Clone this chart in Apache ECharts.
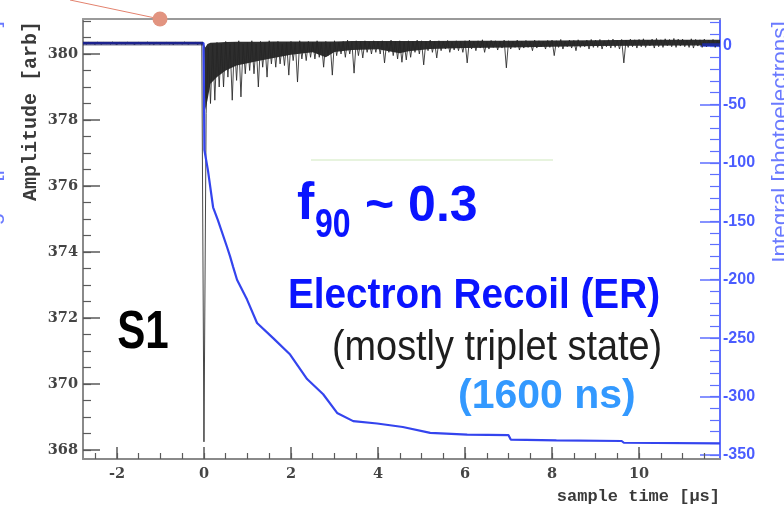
<!DOCTYPE html>
<html><head><meta charset="utf-8">
<script src="https://cdn.jsdelivr.net/npm/echarts@6/dist/echarts.min.js"></script>
<style>html,body{margin:0;padding:0;background:#fff}#c{width:784px;height:513px}</style>
</head><body><div id="c"></div>
<script>
// ---- tick labels ----
const xTickLabels = [-2, 0, 2, 4, 6, 8, 10];
const leftTickLabels = [368, 370, 372, 374, 376, 378, 380];
const rightTickLabels = [-350, -300, -250, -200, -150, -100, -50, 0];

// ---- waveform (Amplitude [arb]) sampled every 0.05 us from -2.75 us ----
const sampleStart = -2.75;
const sampleStep = 0.05;
const amplitude = [
380.33,380.30,380.35,380.31,380.34,380.29,380.36,380.32,380.30,380.35,
380.31,380.34,380.30,380.36,380.32,380.29,380.35,380.31,380.33,380.30,
380.36,380.31,380.34,380.29,380.33,380.35,380.30,380.34,380.31,380.36,
380.30,380.33,380.29,380.35,380.32,380.30,380.34,380.31,380.36,380.30,
380.33,380.29,380.35,380.31,380.34,380.30,380.36,380.32,380.30,380.34,
380.31,380.35,380.29,380.33,380.31,
368.25,378.2,380.2,378.5,380.3,378.6,380.35,379.0,380.3,379.0,380.38,379.3,380.3,378.6,380.35,379.2,380.4,378.7,380.3,379.4,
380.35,379.5,380.4,379.4,380.3,379.0,380.38,379.6,380.33,379.3,380.4,379.7,380.35,379.6,380.38,379.7,380.3,379.65,380.36,379.36,
380.38,379.8,380.35,379.15,380.4,379.85,380.33,379.8,380.38,379.9,380.36,379.85,380.4,379.9,380.35,379.6,380.38,379.95,380.34,379.36,
380.4,379.95,380.36,380.0,380.38,379.9,380.42,380.0,380.35,379.42,380.4,379.95,380.37,379.88,380.4,380.05,380.36,380.0,380.4,380.05,
380.38,380.0,380.4,379.73,380.36,380.05,380.42,379.95,380.38,379.85,380.4,379.75,380.35,379.82,380.4,379.9,380.38,380.05,380.42,380.0,
380.4,379.67,380.38,380.1,380.42,380.05,380.37,379.88,380.4,380.1,380.38,380.15,380.41,380.05,380.36,380.12,380.4,380.1,380.38,380.05,
380.4,379.73,380.42,380.15,380.38,380.1,380.4,380.18,380.43,380.05,380.37,380.15,380.41,380.2,380.4,380.12,380.38,380.18,380.42,379.58,
380.4,380.15,380.38,380.2,380.42,380.12,380.39,380.18,380.41,380.2,380.37,380.1,380.42,380.18,380.4,380.22,380.38,380.15,380.41,380.2,
380.42,379.95,380.4,380.2,380.44,380.15,380.38,380.22,380.42,380.18,380.41,380.1,380.43,380.2,380.39,380.22,380.42,380.15,380.44,380.2,
380.42,380.2,380.44,380.15,380.4,380.22,380.43,380.18,380.45,380.2,380.41,380.15,380.44,379.73,380.42,380.2,380.45,380.22,380.43,380.18,
380.44,380.22,380.46,380.2,380.42,380.25,380.45,380.18,380.47,380.22,380.43,380.2,380.46,380.25,380.44,380.22,380.47,380.2,380.45,380.24,
380.45,380.22,380.42,380.2,380.46,380.18,380.44,380.24,380.43,380.2,380.45,380.22,380.42,380.25,380.44,380.2,380.4,380.22
];

// ---- dense noise band of the waveform (upper / lower envelope) ----
const preBandTime  = [-2.78, -0.02];
const preBandUpper = [380.38, 380.38];
const preBandLower = [380.26, 380.26];
const bandTime  = [0.0, 0.03, 0.08, 0.15, 0.3, 0.5, 0.75, 1.0, 1.3, 1.6, 2.0, 2.5, 2.8, 3.0, 3.4, 4.0, 4.5, 4.7, 5.2, 6.0, 7.0, 8.0, 9.0, 10.0, 11.0, 11.86];
const bandUpper = [380.3, 380.2, 380.3, 380.34, 380.35, 380.36, 380.37, 380.37, 380.37, 380.38, 380.38, 380.38, 380.38, 380.38, 380.39, 380.39, 380.39, 380.39, 380.39, 380.4, 380.4, 380.41, 380.42, 380.43, 380.43, 380.43];
const bandLower = [380.3, 378.3, 378.6, 379.1, 379.3, 379.5, 379.65, 379.72, 379.8, 379.88, 379.98, 380.05, 379.9, 380.06, 380.12, 380.14, 380.02, 380.08, 380.15, 380.18, 380.2, 380.22, 380.24, 380.25, 380.26, 380.26];

// ---- integral (photoelectrons) ----
const integralTime  = [-2.78, -0.01, 0.0, 0.01, 0.09, 0.21, 0.32, 0.53, 0.60, 0.67, 0.76, 0.99, 1.22, 1.59, 1.98, 2.37, 2.74, 3.06, 3.43, 3.98, 4.57, 5.20, 6.05, 7.00, 7.05, 8.10, 9.60, 9.65, 11.86];
const integralValue = [2.5, 2.5, -40, -89, -106, -138, -149, -172, -180, -189, -200, -217, -237, -250, -264, -285, -298, -314, -321, -323, -326, -331, -332.5, -333, -336.8, -337.5, -338, -339.5, -340];

// short dark baseline stub at right end (right axis)
const stubTime = [11.45, 11.86];
const stubValue = [1, 1];

// ---- axis ranges ----
const xMin = -2.78, xMax = 11.86;
const yLeftMin = 367.73, yLeftMax = 381.06;
const yRightMin = -353.4, yRightMax = 23.1;

const xMinor = []; for (let v = -2.5; v <= 11.5; v += 0.5) xMinor.push(+v.toFixed(2));
const leftMinor = []; for (let v = 368; v <= 381; v += 0.5) leftMinor.push(+v.toFixed(2));
const rightMinor = []; for (let v = -350; v <= 20; v += 10) rightMinor.push(v);

const wave = amplitude.map((a, i) => [+(sampleStart + i * sampleStep).toFixed(3), a]);
const integ = integralTime.map((t, i) => [t, integralValue[i]]);
const stub = stubTime.map((t, i) => [t, stubValue[i]]);

function bandRenderer(times, upper, lower, fill, opacity) {
  return function (params, api) {
    const pts = [];
    for (let i = 0; i < times.length; i++) pts.push(api.coord([times[i], upper[i]]));
    for (let i = times.length - 1; i >= 0; i--) pts.push(api.coord([times[i], lower[i]]));
    return {type: 'polygon', shape: {points: pts}, style: {fill: fill, opacity: opacity}};
  };
}

const grey = '#8a8a8a';
const tickGrey = '#5a5a5a';
const axBlue = '#5f6fff';
const labelFontL = {fontFamily: 'DejaVu Serif', fontWeight: 'bold', fontSize: 14.5, color: '#444'};
const noAxisLine = {show: false, onZero: false};

const chart = echarts.init(document.getElementById('c'), null, {renderer: 'canvas'});
chart.setOption({
  animation: false,
  backgroundColor: '#ffffff',
  grid: {left: 83, right: 64, top: 19, bottom: 54, containLabel: false},
  xAxis: [
    {type: 'value', min: xMin, max: xMax, position: 'bottom',
      axisLine: {onZero: false, lineStyle: {color: grey, width: 2}},
      axisTick: {inside: true, length: 12, customValues: xTickLabels, lineStyle: {color: tickGrey, width: 1.5}},
      axisLabel: Object.assign({customValues: xTickLabels, margin: 8}, labelFontL),
      splitLine: {show: false}},
    {type: 'value', min: xMin, max: xMax, position: 'bottom',
      axisLine: noAxisLine,
      axisTick: {inside: true, length: 6, customValues: xMinor, lineStyle: {color: tickGrey, width: 1.2}},
      axisLabel: {show: false}, splitLine: {show: false}},
    {type: 'value', min: xMin, max: xMax, position: 'top',
      axisLine: {onZero: false, lineStyle: {color: '#9a9a9a', width: 2}},
      axisTick: {show: false}, axisLabel: {show: false}, splitLine: {show: false}}
  ],
  yAxis: [
    {type: 'value', min: yLeftMin, max: yLeftMax, position: 'left',
      axisLine: {show: true, onZero: false, lineStyle: {color: grey, width: 2}},
      axisTick: {show: true, inside: true, length: 17, customValues: leftTickLabels, lineStyle: {color: tickGrey, width: 1.5}},
      axisLabel: Object.assign({customValues: leftTickLabels, margin: 5}, labelFontL),
      splitLine: {show: false}},
    {type: 'value', min: yLeftMin, max: yLeftMax, position: 'left',
      axisLine: noAxisLine,
      axisTick: {show: true, inside: true, length: 8, customValues: leftMinor, lineStyle: {color: tickGrey, width: 1.2}},
      axisLabel: {show: false}, splitLine: {show: false}},
    {type: 'value', min: yRightMin, max: yRightMax, position: 'right',
      axisLine: {show: true, onZero: false, lineStyle: {color: axBlue, width: 2}},
      axisTick: {show: true, inside: true, length: 20, customValues: rightTickLabels, lineStyle: {color: axBlue, width: 1.5}},
      axisLabel: {customValues: rightTickLabels, margin: 3, fontFamily: 'Liberation Sans', fontWeight: 'bold', fontSize: 16, color: '#4a5cff'},
      splitLine: {show: false}},
    {type: 'value', min: yRightMin, max: yRightMax, position: 'right',
      axisLine: noAxisLine,
      axisTick: {show: true, inside: true, length: 10, customValues: rightMinor, lineStyle: {color: axBlue, width: 1.2}},
      axisLabel: {show: false}, splitLine: {show: false}}
  ],
  series: [
    {type: 'custom', name: 'band', xAxisIndex: 0, yAxisIndex: 0, data: [[bandTime[0], bandUpper[0]]], z: 1,
      renderItem: bandRenderer(bandTime, bandUpper, bandLower, '#1c1c1c', 0.92)},
    {type: 'line', name: 'Amplitude', xAxisIndex: 0, yAxisIndex: 0, data: wave, showSymbol: false,
      lineStyle: {color: '#262626', width: 0.85}, z: 2},
    {type: 'line', name: 'Integral', xAxisIndex: 0, yAxisIndex: 2, data: integ, showSymbol: false,
      lineStyle: {color: '#3444ee', width: 2.2}, z: 3},
    {type: 'line', name: 'stub', xAxisIndex: 0, yAxisIndex: 2, data: stub, showSymbol: false,
      lineStyle: {color: '#1c2a9a', width: 3}, z: 3},
    {type: 'custom', name: 'preBand', xAxisIndex: 0, yAxisIndex: 0, data: [[preBandTime[0], preBandUpper[0]]], z: 4,
      renderItem: bandRenderer(preBandTime, preBandUpper, preBandLower, '#0a0a40', 0.55)}
  ],
  graphic: [
    {type: 'line', shape: {x1: 70, y1: 0, x2: 160, y2: 19}, style: {stroke: '#e3826e', lineWidth: 1}, z: 10},
    {type: 'circle', shape: {cx: 160, cy: 19, r: 7.5}, style: {fill: '#e29480'}, z: 11},
    {type: 'line', shape: {x1: 311, y1: 160, x2: 553, y2: 160}, style: {stroke: '#cfe8bd', lineWidth: 1}, z: 10},
    {type: 'text', x: 31, y: 111, rotation: Math.PI / 2,
      style: {text: 'Amplitude [arb]', font: 'bold 20px "Liberation Mono"', fill: '#3a3a3a', textAlign: 'center', textVerticalAlign: 'middle', align: 'center', verticalAlign: 'middle'}},
    {type: 'text', x: 720, y: 497,
      style: {text: 'sample time [\u03bcs]', font: 'bold 17px "Liberation Mono"', fill: '#3a3a3a', textAlign: 'right', textVerticalAlign: 'middle', align: 'right', verticalAlign: 'middle'}},
    {type: 'text', x: 781, y: 142, rotation: Math.PI / 2,
      style: {text: 'Integral [photoelectrons]', font: '22.5px "Liberation Sans"', fill: '#6a7aff', textAlign: 'center', textVerticalAlign: 'middle', align: 'center', verticalAlign: 'middle'}},
    {type: 'text', x: -7, y: 142, rotation: Math.PI / 2,
      style: {text: 'Integral [photoelectrons]', font: '22.5px "Liberation Sans"', fill: '#6a7aff', textAlign: 'center', textVerticalAlign: 'middle', align: 'center', verticalAlign: 'middle'}},
    {type: 'text', x: 143, y: 333, scaleX: 0.78,
      style: {text: 'S1', font: 'bold 54px "Liberation Sans"', fill: '#000', textAlign: 'center', textVerticalAlign: 'middle', align: 'center', verticalAlign: 'middle'}},
    {type: 'text', x: 297, y: 205,
      style: {text: 'f', font: 'bold 52px "Liberation Sans"', fill: '#0a14ff', textAlign: 'left', textVerticalAlign: 'middle', align: 'left', verticalAlign: 'middle'}},
    {type: 'text', x: 315, y: 226, scaleX: 0.8,
      style: {text: '90', font: 'bold 40px "Liberation Sans"', fill: '#0a14ff', textAlign: 'left', textVerticalAlign: 'middle', align: 'left', verticalAlign: 'middle'}},
    {type: 'text', x: 365, y: 207,
      style: {text: '~ 0.3', font: 'bold 50px "Liberation Sans"', fill: '#0a14ff', textAlign: 'left', textVerticalAlign: 'middle', align: 'left', verticalAlign: 'middle'}},
    {type: 'text', x: 288, y: 296, scaleX: 0.9,
      style: {text: 'Electron Recoil (ER)', font: 'bold 43px "Liberation Sans"', fill: '#0a14ff', textAlign: 'left', textVerticalAlign: 'middle', align: 'left', verticalAlign: 'middle'}},
    {type: 'text', x: 332, y: 348, scaleX: 0.88,
      style: {text: '(mostly triplet state)', font: '43px "Liberation Sans"', fill: '#1e1e1e', textAlign: 'left', textVerticalAlign: 'middle', align: 'left', verticalAlign: 'middle'}},
    {type: 'text', x: 458, y: 397,
      style: {text: '(1600 ns)', font: 'bold 41px "Liberation Sans"', fill: '#3399ff', textAlign: 'left', textVerticalAlign: 'middle', align: 'left', verticalAlign: 'middle'}}
  ]
});
</script>
</body></html>
